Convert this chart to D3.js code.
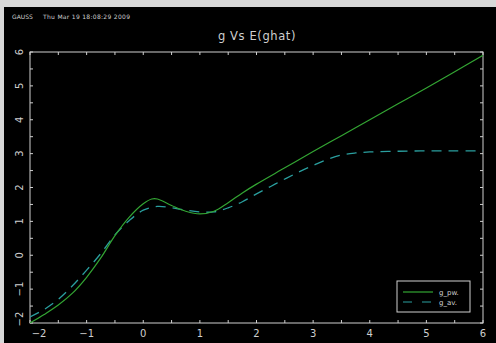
<!DOCTYPE html>
<html>
<head>
<meta charset="utf-8">
<script src="https://cdn.jsdelivr.net/npm/d3@7"></script>
<style>
  body { margin: 0; background: #000; }
  svg { display: block; }
</style>
</head>
<body>
<div class="viz"></div>
<script>
/* data */
const xValues = [-2, -1.75, -1.5, -1.25, -1, -0.75, -0.5, -0.25, 0, 0.15, 0.25, 0.5, 0.75, 1, 1.25, 1.5, 1.75, 2, 2.5, 3, 3.5, 4, 4.5, 5, 5.5, 6];
const gPw = [-2.0, -1.75, -1.47, -1.12, -0.65, -0.08, 0.58, 1.12, 1.52, 1.66, 1.66, 1.47, 1.30, 1.22, 1.30, 1.55, 1.84, 2.1, 2.58, 3.06, 3.53, 4.0, 4.47, 4.94, 5.42, 5.9];

const xAv = [-2, -1.75, -1.5, -1.25, -1, -0.75, -0.5, -0.25, 0, 0.25, 0.5, 0.75, 1, 1.25, 1.5, 1.75, 2, 2.25, 2.5, 2.75, 3, 3.25, 3.5, 3.75, 4, 4.5, 5, 5.5, 6];
const gAv = [-1.82, -1.6, -1.3, -0.9, -0.44, 0.05, 0.6, 1.02, 1.33, 1.44, 1.40, 1.33, 1.28, 1.28, 1.40, 1.58, 1.81, 2.03, 2.25, 2.46, 2.65, 2.83, 2.96, 3.02, 3.05, 3.07, 3.08, 3.08, 3.08];

const xTicks = [-2, -1, 0, 1, 2, 3, 4, 5, 6];
const yTicks = [-2, -1, 0, 1, 2, 3, 4, 5, 6];
const seriesNames = ["g_pw.", "g_av."];

const title = "g Vs E(ghat)";
const header = "GAUSS";
const stamp = "Thu Mar 19 18:08:29 2009";

const width = 496, height = 343;
const plot = { left: 30, right: 483, top: 52, bottom: 323 };
const fg = "#cfcfcf";
const green = "#33a533";
const teal = "#2a9f9f";
const font = "DejaVu Sans, sans-serif";

var svg = d3.select(".viz")
  .append("svg")
  .attr("width", width)
  .attr("height", height);

// light margin of the screenshot, black canvas
svg.append("rect").attr("width", width).attr("height", height).attr("fill", "#d8d8d8");
svg.append("rect").attr("x", 4).attr("y", 7).attr("width", width - 4).attr("height", height - 7).attr("fill", "#000");

var xscale = d3.scaleLinear().domain([-2, 6]).range([plot.left, plot.right]);
var yscale = d3.scaleLinear().domain([-2, 6]).range([plot.bottom, plot.top]);

/* header + title */
svg.append("text")
  .attr("x", 12).attr("y", 19)
  .attr("fill", fg).attr("font-family", font).attr("font-size", 6)
  .text(header);
svg.append("text")
  .attr("x", 43).attr("y", 19)
  .attr("fill", fg).attr("font-family", font).attr("font-size", 6)
  .attr("textLength", 87)
  .text(stamp);

svg.append("text")
  .attr("x", 257).attr("y", 40)
  .attr("text-anchor", "middle")
  .attr("fill", fg).attr("font-family", font).attr("font-size", 11.5)
  .attr("letter-spacing", 0.6)
  .text(title);

/* frame */
svg.append("rect")
  .attr("x", plot.left).attr("y", plot.top)
  .attr("width", plot.right - plot.left).attr("height", plot.bottom - plot.top)
  .attr("fill", "none").attr("stroke", fg).attr("stroke-width", 1);

// inward ticks on all four sides, every 0.5
var minor = d3.range(-2, 6.01, 0.5);
var tickLen = 3;
var ticks = svg.append("g").attr("stroke", fg).attr("stroke-width", 1);
minor.forEach(function (v) {
  ticks.append("line").attr("x1", xscale(v)).attr("x2", xscale(v))
    .attr("y1", plot.bottom).attr("y2", plot.bottom - tickLen);
  ticks.append("line").attr("x1", xscale(v)).attr("x2", xscale(v))
    .attr("y1", plot.top).attr("y2", plot.top + tickLen);
  ticks.append("line").attr("y1", yscale(v)).attr("y2", yscale(v))
    .attr("x1", plot.left).attr("x2", plot.left + tickLen);
  ticks.append("line").attr("y1", yscale(v)).attr("y2", yscale(v))
    .attr("x1", plot.right).attr("x2", plot.right - tickLen);
});

var fmt = (d) => (d < 0 ? "\u2212" + Math.abs(d) : "" + d);

svg.append("g")
  .selectAll("text")
  .data(xTicks)
  .enter()
  .append("text")
  .attr("x", (d) => (d === -2 ? xscale(d) + 9 : xscale(d)))
  .attr("y", 337)
  .attr("text-anchor", "middle")
  .attr("fill", fg).attr("font-family", font).attr("font-size", 10)
  .text(fmt);

svg.append("g")
  .selectAll("text")
  .data(yTicks)
  .enter()
  .append("text")
  .attr("transform", (d) => "translate(23," + (d === -2 ? yscale(d) - 4 : yscale(d)) + ") rotate(-90)")
  .attr("text-anchor", "middle")
  .attr("fill", fg).attr("font-family", font).attr("font-size", 10)
  .text(fmt);

/* curves */
var line = d3.line()
  .x((d) => xscale(d[0]))
  .y((d) => yscale(d[1]))
  .curve(d3.curveCatmullRom.alpha(0.5));

svg.append("clipPath").attr("id", "clip")
  .append("rect")
  .attr("x", plot.left).attr("y", plot.top)
  .attr("width", plot.right - plot.left).attr("height", plot.bottom - plot.top);

var curves = svg.append("g").attr("clip-path", "url(#clip)");

curves.append("path")
  .datum(d3.zip(xAv, gAv))
  .attr("d", line)
  .attr("fill", "none")
  .attr("stroke", teal)
  .attr("stroke-width", 1.3)
  .attr("stroke-dasharray", "10,7");

curves.append("path")
  .datum(d3.zip(xValues, gPw))
  .attr("d", line)
  .attr("fill", "none")
  .attr("stroke", green)
  .attr("stroke-width", 1.2);

/* legend */
var legend = svg.append("g").attr("id", "legend");
legend.append("rect")
  .attr("x", 397).attr("y", 281).attr("width", 73).attr("height", 31)
  .attr("fill", "#000").attr("stroke", fg).attr("stroke-width", 1);

var items = legend.selectAll("g.item")
  .data(seriesNames)
  .enter()
  .append("g")
  .attr("transform", (d, i) => "translate(0," + (292 + i * 10) + ")");

items.append("line")
  .attr("x1", 403).attr("x2", 433)
  .attr("stroke", (d, i) => (i === 0 ? green : teal))
  .attr("stroke-width", 1.2)
  .attr("stroke-dasharray", (d, i) => (i === 0 ? null : "9,10"));

items.append("text")
  .attr("x", 439).attr("y", 2.5)
  .attr("fill", fg).attr("font-family", font).attr("font-size", 7)
  .text((d) => d);
</script>
</body>
</html>
